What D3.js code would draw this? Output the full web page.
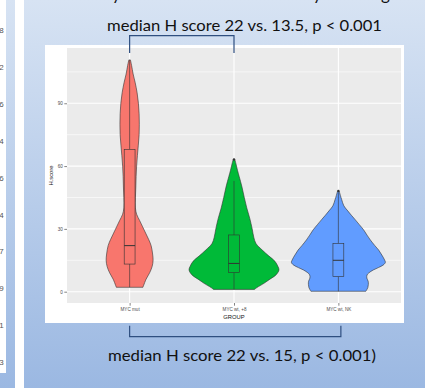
<!DOCTYPE html>
<html>
<head>
<meta charset="utf-8">
<script src="https://cdn.jsdelivr.net/npm/d3@7"></script>
<style>
  html, body { margin: 0; padding: 0; background: #fff; }
  svg { display: block; }
</style>
</head>
<body>
<svg id="chart" width="425" height="388"></svg>
<script>
// ---------------- DATA ----------------
const categories = ["MYC mut", "MYC wt, +8", "MYC wt, NK"];
const groupFills = ["#F8766D", "#00BA38", "#619CFF"];

// violin outlines: H score values and relative half-widths (density)
const violinMutY = [2.1, 3, 6, 9, 12, 15, 18, 22, 25, 28, 31, 34, 37, 40, 45, 50, 55, 60, 65, 70, 75, 80, 85, 90, 95, 100, 104, 108, 110.7];
const violinMutW = [13.3, 14, 16.5, 20, 22.5, 23.5, 23, 21.5, 19, 16, 13, 10, 7, 5.8, 5.8, 6.2, 6.5, 7, 7.8, 8.7, 9.5, 9.7, 9.5, 8.8, 7.5, 5.5, 3.5, 2, 0.8];
const violinPlus8Y = [1.1, 2, 4, 6, 8, 10.4, 12, 14.5, 17, 20, 23, 26, 30, 35, 40, 45, 50, 55, 58, 61, 63.2];
const violinPlus8W = [20.5, 23, 30, 36, 42, 45, 44, 41, 35, 28, 22, 19.8, 18.2, 15.8, 12.8, 10.3, 8, 5.2, 3.5, 2, 0.8];
const violinNKY = [0.2, 1, 2, 3.5, 5, 6.5, 8, 9, 10.4, 11.5, 12.8, 14, 15.1, 17.5, 19.9, 22, 24.7, 27, 29.5, 32, 34.3, 36.5, 39, 41, 44, 46, 48.1];
const violinNKW = [27.5, 28.5, 29.5, 30, 29.8, 28.5, 28.7, 30.5, 35, 40, 45, 47, 46.3, 43.5, 40.3, 36.5, 32, 28.7, 25.3, 21, 17, 13, 8.7, 5.5, 3.3, 2, 0.8];

// box plot statistics
const boxLower  = [2.1, 1.1, 0.2];
const boxQ1     = [13.2, 9.1, 7.2];
const boxMedian = [22, 13.5, 15];
const boxQ3     = [68, 27.1, 23.1];
const boxUpper  = [110.7, 52.9, 47.5];
const boxOutliers = [[], [63.2], [48.1]];

const yTicks = [0, 30, 60, 90];
const yMinorTicks = [15, 45, 75, 105];

const topText = "median H score 22 vs. 13.5, p < 0.001";
const bottomText = "median H score 22 vs. 15, p < 0.001)";
const sideDigits = ["8", "2", "6", "4", "6", "4", "7", "9", "1", "3"];

// ---------------- DRAW ----------------
const svg = d3.select("#chart");
const W = 425, H = 388;

// slide background gradient
const defs = svg.append("defs");
const grad = defs.append("linearGradient").attr("id", "bg").attr("x1", 0).attr("y1", 0).attr("x2", 0).attr("y2", 1);
grad.append("stop").attr("offset", "0%").attr("stop-color", "#d7e3f3");
grad.append("stop").attr("offset", "100%").attr("stop-color", "#9bb8e2");
svg.append("rect").attr("width", W).attr("height", H).attr("fill", "url(#bg)");

// white strips at left
svg.append("rect").attr("x", 0).attr("y", 0).attr("width", 6).attr("height", 373).attr("fill", "#ffffff");
svg.append("rect").attr("x", 15).attr("y", 0).attr("width", 9).attr("height", H).attr("fill", "#ffffff");
svg.append("g").selectAll("text").data(sideDigits).join("text")
  .attr("x", 3.6).attr("y", (d, i) => 33 + i * 36.9)
  .attr("text-anchor", "end")
  .attr("font-family", "Liberation Sans, Arial, sans-serif")
  .attr("font-size", 8).attr("fill", "#555")
  .text(d => d);

// top cut-off title glyph descenders
const cut = svg.append("g").attr("font-family", "Lato, sans-serif").attr("font-size", 17).attr("fill", "#111");
[["y", 112], ["y", 313], ["g", 381]].forEach(([t, x]) => cut.append("text").attr("x", x).attr("y", -0.5).text(t));

// chart image white background
svg.append("rect").attr("x", 45).attr("y", 45).attr("width", 359).attr("height", 278).attr("fill", "#ffffff");

// plot panel
const panel = { left: 67, right: 401, top: 48, bottom: 303 };
const x = d3.scalePoint().domain(categories).range([panel.left, panel.right]).padding(0.6);
const y = d3.scaleLinear().domain([-5.4, 116.4]).range([panel.bottom, panel.top]);
const step = x.step();

svg.append("rect").attr("x", panel.left).attr("y", panel.top)
  .attr("width", panel.right - panel.left).attr("height", panel.bottom - panel.top)
  .attr("fill", "#EBEBEB");

const grid = svg.append("g");
grid.selectAll("line.minor").data(yMinorTicks).join("line").attr("class", "minor")
  .attr("x1", panel.left).attr("x2", panel.right)
  .attr("y1", d => y(d)).attr("y2", d => y(d))
  .attr("stroke", "#fff").attr("stroke-width", 0.6);
grid.selectAll("line.major").data(yTicks).join("line").attr("class", "major")
  .attr("x1", panel.left).attr("x2", panel.right)
  .attr("y1", d => y(d)).attr("y2", d => y(d))
  .attr("stroke", "#fff").attr("stroke-width", 1.1);
grid.selectAll("line.vmajor").data(categories).join("line").attr("class", "vmajor")
  .attr("x1", d => x(d)).attr("x2", d => x(d))
  .attr("y1", panel.top).attr("y2", panel.bottom)
  .attr("stroke", "#fff").attr("stroke-width", 1.1);

// violins
const violins = [
  { ys: violinMutY, ws: violinMutW },
  { ys: violinPlus8Y, ws: violinPlus8W },
  { ys: violinNKY, ws: violinNKW }
];
const maxDens = d3.max(violins, v => d3.max(v.ws));
const halfScale = d3.scaleLinear().domain([0, maxDens]).range([0, 0.45 * step]);

violins.forEach((v, i) => {
  const cx = x(categories[i]);
  const pts = v.ys.map((val, j) => ({ v: val, w: v.ws[j] }));
  const area = d3.area()
    .y(d => y(d.v))
    .x0(d => cx - halfScale(d.w))
    .x1(d => cx + halfScale(d.w))
    .curve(d3.curveCatmullRom.alpha(0.5));
  svg.append("path").datum(pts).attr("d", area)
    .attr("fill", groupFills[i]).attr("stroke", "#333").attr("stroke-width", 0.6);
});

// box plots
const boxHalf = 0.052 * step;
categories.forEach((c, i) => {
  const cx = x(c);
  const g = svg.append("g");
  g.append("line").attr("x1", cx).attr("x2", cx).attr("y1", y(boxQ3[i])).attr("y2", y(boxUpper[i]))
    .attr("stroke", "#333").attr("stroke-width", 0.6);
  g.append("line").attr("x1", cx).attr("x2", cx).attr("y1", y(boxQ1[i])).attr("y2", y(boxLower[i]))
    .attr("stroke", "#333").attr("stroke-width", 0.6);
  g.append("rect").attr("x", cx - boxHalf).attr("width", 2 * boxHalf)
    .attr("y", y(boxQ3[i])).attr("height", y(boxQ1[i]) - y(boxQ3[i]))
    .attr("fill", groupFills[i]).attr("stroke", "#333").attr("stroke-width", 0.6);
  g.append("line").attr("x1", cx - boxHalf).attr("x2", cx + boxHalf)
    .attr("y1", y(boxMedian[i])).attr("y2", y(boxMedian[i]))
    .attr("stroke", "#333").attr("stroke-width", 1);
  g.selectAll("circle").data(boxOutliers[i]).join("circle")
    .attr("cx", cx).attr("cy", d => y(d)).attr("r", 1.2).attr("fill", "#333");
});

// axes
const axisFont = "Liberation Sans, Arial, sans-serif";
const yAxis = svg.append("g").attr("transform", `translate(${panel.left},0)`)
  .call(d3.axisLeft(y).tickValues(yTicks).tickSize(2.7).tickPadding(1.5));
yAxis.select(".domain").remove();
yAxis.selectAll(".tick line").attr("stroke", "#333").attr("stroke-width", 0.6);
yAxis.selectAll(".tick text").attr("font-family", axisFont).attr("font-size", 4.6).attr("fill", "#4d4d4d");

const xAxis = svg.append("g").attr("transform", `translate(0,${panel.bottom})`)
  .call(d3.axisBottom(x).tickSize(2.7).tickPadding(1.6));
xAxis.select(".domain").remove();
xAxis.selectAll(".tick line").attr("stroke", "#333").attr("stroke-width", 0.6);
xAxis.selectAll(".tick text").attr("font-family", axisFont).attr("font-size", 4.6).attr("fill", "#4d4d4d");

svg.append("text").attr("x", (panel.left + panel.right) / 2).attr("y", 318.6)
  .attr("text-anchor", "middle").attr("font-family", axisFont).attr("font-size", 5.8).attr("fill", "#111")
  .text("GROUP");
svg.append("text").attr("transform", `translate(53.4,${(panel.top + panel.bottom) / 2}) rotate(-90)`)
  .attr("text-anchor", "middle").attr("font-family", axisFont).attr("font-size", 5.8).attr("fill", "#111")
  .text("H.score");

// annotation texts
svg.append("text").attr("x", 107).attr("y", 30.7)
  .attr("font-family", "Lato, sans-serif").attr("font-size", 16).attr("fill", "#111")
  .attr("textLength", 275).attr("lengthAdjust", "spacingAndGlyphs")
  .text(topText);
svg.append("text").attr("x", 108).attr("y", 360.7)
  .attr("font-family", "Lato, sans-serif").attr("font-size", 16).attr("fill", "#111")
  .attr("textLength", 268).attr("lengthAdjust", "spacingAndGlyphs")
  .text(bottomText);

// brackets
const bracketColor = "#2f4f80";
const x1 = x(categories[0]), x2 = x(categories[1]), x3 = x(categories[2]);
svg.append("path")
  .attr("d", `M${x1},53 V35.7 H${x2} V53`)
  .attr("fill", "none").attr("stroke", bracketColor).attr("stroke-width", 1.2);
svg.append("path")
  .attr("d", `M${x1},325.7 V336.7 H${x3 + 2.5} V325.7`)
  .attr("fill", "none").attr("stroke", bracketColor).attr("stroke-width", 1.2);
</script>
</body>
</html>
